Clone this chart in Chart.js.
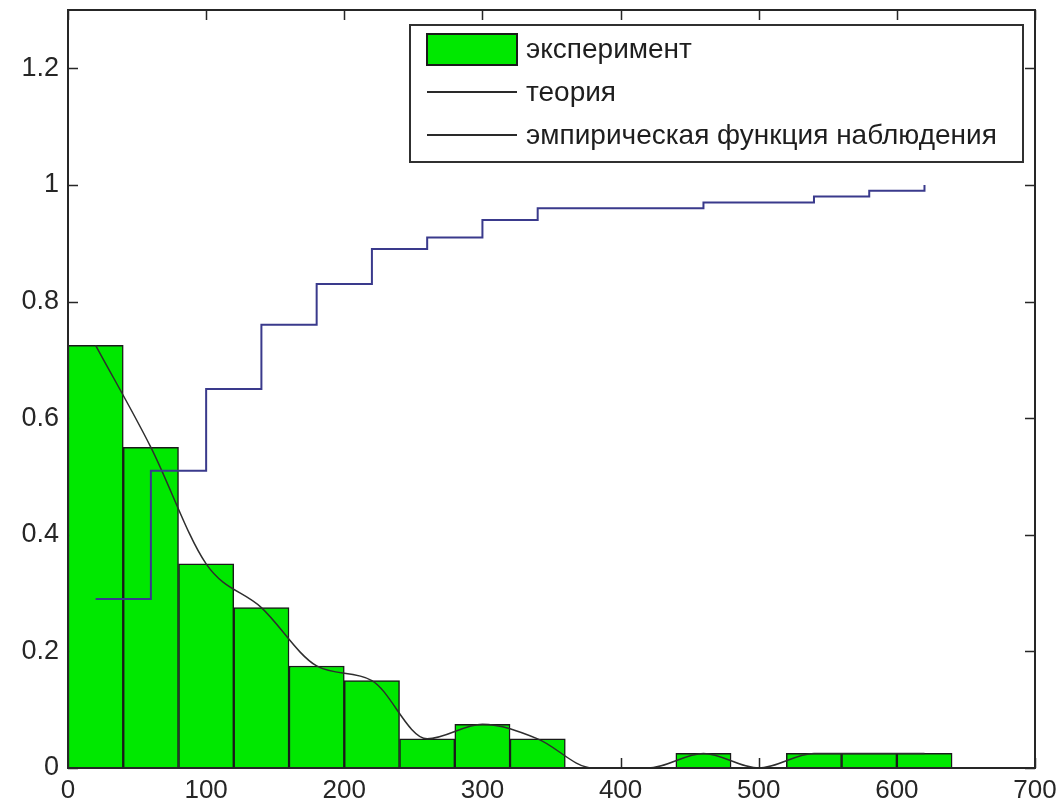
<!DOCTYPE html>
<html>
<head>
<meta charset="utf-8">
<script src="https://cdn.jsdelivr.net/npm/chart.js@4.4.1/dist/chart.umd.min.js"></script>
<style>
  html, body { margin: 0; padding: 0; background: #ffffff; }
  #wrap { width: 1058px; height: 808px; }
</style>
</head>
<body>
<div id="wrap"><canvas id="c" width="1058" height="808"></canvas></div>
<script>
// ---- data ----
const binCenters = [20, 60, 100, 140, 180, 220, 260, 300, 340, 380, 420, 460, 500, 540, 580, 620];
const histValues = [0.725, 0.55, 0.35, 0.275, 0.175, 0.15, 0.05, 0.075, 0.05, 0, 0, 0.025, 0, 0.025, 0.025, 0.025];
const theoryValues = [0.725, 0.55, 0.35, 0.275, 0.175, 0.15, 0.05, 0.075, 0.05, 0, 0, 0.025, 0, 0.025, 0.025, 0.025];
const empiricalValues = [0.29, 0.51, 0.65, 0.76, 0.83, 0.89, 0.91, 0.94, 0.96, 0.96, 0.96, 0.97, 0.97, 0.98, 0.99, 1.0];
const xTicks = [0, 100, 200, 300, 400, 500, 600, 700];
const yTicks = [0, 0.2, 0.4, 0.6, 0.8, 1, 1.2];
const seriesLabels = ['эксперимент', 'теория', 'эмпирическая функция наблюдения'];

const AXIS_COLOR = '#262626';
const FONT_FAMILY = '"Liberation Sans", Arial, Helvetica, sans-serif';

const pts = (xs, ys) => xs.map((x, i) => ({ x: x, y: ys[i] }));

// inward tick marks on all four sides (drawn beneath the data, like the reference)
const tickMarks = {
  id: 'tickMarks',
  beforeDatasetsDraw(chart) {
    const { ctx, chartArea: a, scales } = chart;
    const len = 10;
    ctx.save();
    ctx.strokeStyle = AXIS_COLOR;
    ctx.lineWidth = 1.5;
    ctx.beginPath();
    scales.x.ticks.forEach(t => {
      const px = Math.round(scales.x.getPixelForValue(t.value)) + 0.5;
      ctx.moveTo(px, a.bottom); ctx.lineTo(px, a.bottom - len);
      ctx.moveTo(px, a.top); ctx.lineTo(px, a.top + len);
    });
    scales.y.ticks.forEach(t => {
      const py = Math.round(scales.y.getPixelForValue(t.value)) + 0.5;
      ctx.moveTo(a.left, py); ctx.lineTo(a.left + len, py);
      ctx.moveTo(a.right, py); ctx.lineTo(a.right - len, py);
    });
    ctx.stroke();
    ctx.restore();
  }
};

// axes box + legend box drawn on top
const boxAndLegend = {
  id: 'boxAndLegend',
  afterDatasetsDraw(chart) {
    const { ctx, chartArea: a } = chart;
    ctx.save();
    ctx.strokeStyle = AXIS_COLOR;
    ctx.lineWidth = 2;
    ctx.strokeRect(a.left, a.top, a.right - a.left, a.bottom - a.top);

    // legend
    const lx = 410, ly = 25, lw = 613, lh = 137;
    ctx.fillStyle = '#ffffff';
    ctx.fillRect(lx, ly, lw, lh);
    ctx.lineWidth = 2;
    ctx.strokeStyle = '#303030';
    ctx.strokeRect(lx, ly, lw, lh);

    const ds = chart.data.datasets;
    const rows = [49, 92, 135];
    ctx.font = '28px ' + FONT_FAMILY;
    ctx.textBaseline = 'middle';
    ctx.textAlign = 'left';
    // row 1: bar swatch
    ctx.fillStyle = ds[0].backgroundColor;
    ctx.fillRect(427, 34, 90, 31);
    ctx.lineWidth = 2;
    ctx.strokeStyle = '#1a1a1a';
    ctx.strokeRect(427, 34, 90, 31);
    // rows 2-3: line samples
    [1, 2].forEach(i => {
      ctx.beginPath();
      ctx.strokeStyle = '#2a2a2a';
      ctx.lineWidth = 2;
      ctx.moveTo(427, rows[i]);
      ctx.lineTo(517, rows[i]);
      ctx.stroke();
    });
    ctx.fillStyle = '#1e1e1e';
    ds.forEach((d, i) => ctx.fillText(d.label, 526, rows[i] + 1));
    ctx.restore();
  }
};

new Chart(document.getElementById('c'), {
  type: 'bar',
  data: {
    datasets: [
      {
        type: 'bar',
        label: seriesLabels[0],
        data: pts(binCenters, histValues),
        backgroundColor: '#00e800',
        borderColor: '#1a1a1a',
        borderWidth: 1.5,
        barPercentage: 1,
        categoryPercentage: 1,
        order: 3
      },
      {
        type: 'line',
        label: seriesLabels[1],
        data: pts(binCenters, theoryValues),
        borderColor: '#2e2e2e',
        borderWidth: 1.5,
        pointRadius: 0,
        fill: false,
        cubicInterpolationMode: 'monotone',
        order: 2
      },
      {
        type: 'line',
        label: seriesLabels[2],
        data: pts(binCenters, empiricalValues),
        borderColor: '#3a3a8c',
        borderWidth: 2,
        pointRadius: 0,
        fill: false,
        stepped: 'before',
        order: 1
      }
    ]
  },
  options: {
    responsive: false,
    animation: false,
    events: [],
    layout: { padding: { top: 10, right: 23, bottom: 0, left: 0 } },
    plugins: { legend: { display: false }, tooltip: { enabled: false } },
    scales: {
      x: {
        type: 'linear',
        offset: false,
        min: xTicks[0],
        max: xTicks[xTicks.length - 1],
        afterBuildTicks: s => { s.ticks = xTicks.map(v => ({ value: v })); },
        afterFit: s => { s.height = 40; s.paddingLeft = 0; s.paddingRight = 0; },
        grid: { display: false, drawTicks: false },
        border: { display: false },
        ticks: {
          padding: 7,
          color: AXIS_COLOR,
          font: { family: FONT_FAMILY, size: 26 },
          maxRotation: 0,
          autoSkip: false,
          callback: v => String(v)
        }
      },
      y: {
        type: 'linear',
        min: 0,
        max: 1.3,
        afterBuildTicks: s => { s.ticks = yTicks.map(v => ({ value: v })); },
        afterFit: s => { s.width = 68; s.paddingTop = 0; s.paddingBottom = 0; },
        grid: { display: false, drawTicks: false },
        border: { display: false },
        ticks: {
          padding: 9,
          color: AXIS_COLOR,
          font: { family: FONT_FAMILY, size: 27 },
          autoSkip: false,
          callback: v => String(v)
        }
      }
    }
  },
  plugins: [tickMarks, boxAndLegend]
});
</script>
</body>
</html>
